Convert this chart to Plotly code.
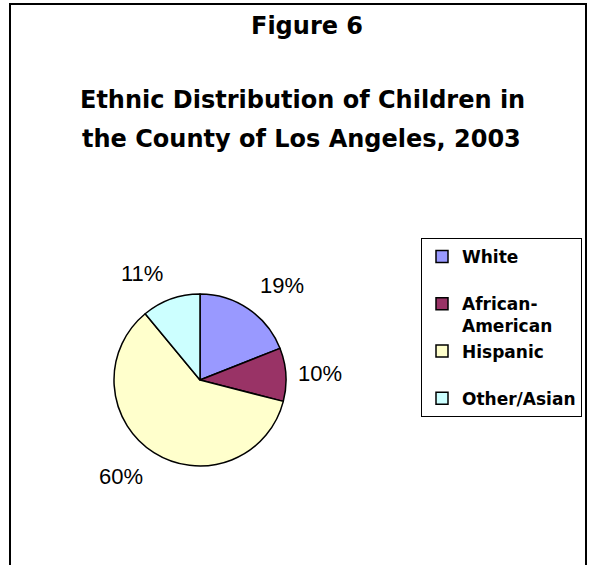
import math
import plotly.graph_objects as go

# ---- data ----
categories = ["White", "African-American", "Hispanic", "Other/Asian"]
values = [19, 10, 60, 11]
legend_labels = ["White<br> ", "African-<br>American", "Hispanic<br> ", "Other/Asian"]
colors = ["#9999FF", "#993366", "#FFFFCC", "#CCFFFF"]
fig_label = "Figure 6"
title_lines = ["Ethnic Distribution of Children in", "the County of Los Angeles, 2003"]

# ---- layout geometry (pixels) ----
W, H = 597, 565
cx, cy, R = 200, 380, 86
label_r_corner = 103
label_r_side = 96

def px(x):
    return x / W

def py(y):
    return 1 - y / H

fig = go.Figure()
fig.add_trace(go.Pie(
    labels=legend_labels,
    values=values,
    customdata=categories,
    sort=False,
    direction="clockwise",
    rotation=0,
    textinfo="none",
    hovertemplate="%{customdata}: %{value}%<extra></extra>",
    marker=dict(colors=colors, line=dict(color="black", width=1.5)),
    domain=dict(x=[px(cx - R), px(cx + R)], y=[py(cy + R), py(cy - R)]),
))

annotations = []
# percentage labels placed around the pie from each slice's mid-angle
total = sum(values)
cum = 0
for v in values:
    mid = (cum + v / 2) / total * 2 * math.pi
    cum += v
    s, c = math.sin(mid), math.cos(mid)
    xa = "left" if s > 0.1 else ("right" if s < -0.1 else "center")
    if c > 0.25:
        ya, ys, r = "bottom", -5, label_r_corner
    elif c < -0.25:
        ya, ys, r = "top", 5, label_r_corner
    else:
        ya, ys, r = "middle", 0, label_r_side
    ax = cx + r * s
    ay = cy - r * c
    annotations.append(dict(
        x=px(ax), y=py(ay), xref="paper", yref="paper",
        text=f"{v}%", showarrow=False, xanchor=xa, yanchor=ya, yshift=ys,
        font=dict(family="Liberation Sans", size=22, color="black"),
    ))

title_font = dict(family="DejaVu Sans", size=24, color="black", weight="bold")
annotations.append(dict(x=px(307), y=py(25.7), xref="paper", yref="paper",
                        text=fig_label, showarrow=False, xanchor="center",
                        yanchor="middle", font=title_font))
annotations.append(dict(x=px(302), y=py(99.7), xref="paper", yref="paper",
                        text=title_lines[0], showarrow=False, xanchor="center",
                        yanchor="middle", font=title_font))
annotations.append(dict(x=px(301.5), y=py(138.7), xref="paper", yref="paper",
                        text=title_lines[1], showarrow=False, xanchor="center",
                        yanchor="middle", font=title_font))

fig.update_layout(
    width=W, height=H,
    margin=dict(l=0, r=0, t=0, b=0),
    paper_bgcolor="white", plot_bgcolor="white",
    showlegend=True,
    legend=dict(
        x=px(582), xanchor="right", y=py(238), yanchor="top",
        bordercolor="black", borderwidth=1, bgcolor="white",
        font=dict(family="DejaVu Sans", size=17, color="black", weight="bold"),
        valign="top",
    ),
    annotations=annotations,
    shapes=[dict(type="rect", xref="paper", yref="paper",
                 x0=px(10), x1=px(586), y0=py(4), y1=-0.05,
                 line=dict(color="black", width=2), fillcolor="rgba(0,0,0,0)")],
)

fig.write_html("out.html")
